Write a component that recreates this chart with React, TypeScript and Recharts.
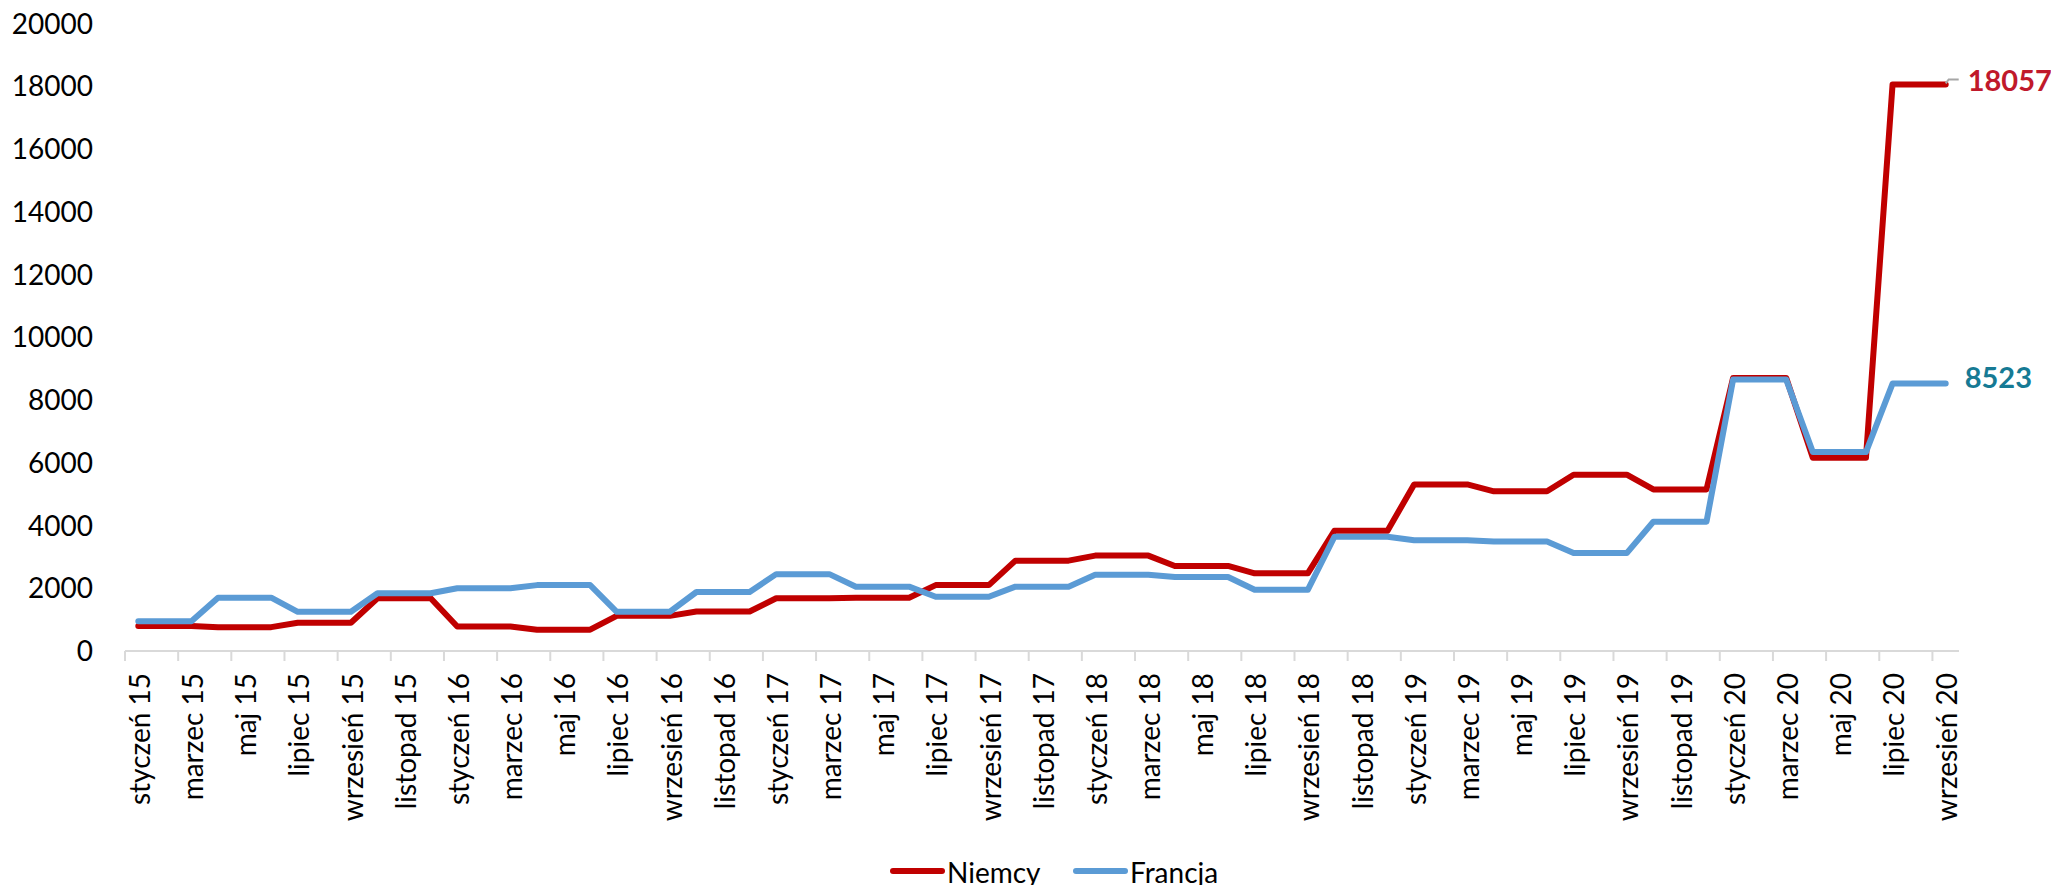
import React from 'react'
import { LabelList, Legend, Line, LineChart, XAxis, YAxis } from 'recharts'

const miesiace = [
	'styczeń 15', 'luty 15', 'marzec 15', 'kwiecień 15', 'maj 15', 'czerwiec 15', 'lipiec 15', 'sierpień 15', 'wrzesień 15', 'październik 15', 'listopad 15', 'grudzień 15',
	'styczeń 16', 'luty 16', 'marzec 16', 'kwiecień 16', 'maj 16', 'czerwiec 16', 'lipiec 16', 'sierpień 16', 'wrzesień 16', 'październik 16', 'listopad 16', 'grudzień 16',
	'styczeń 17', 'luty 17', 'marzec 17', 'kwiecień 17', 'maj 17', 'czerwiec 17', 'lipiec 17', 'sierpień 17', 'wrzesień 17', 'październik 17', 'listopad 17', 'grudzień 17',
	'styczeń 18', 'luty 18', 'marzec 18', 'kwiecień 18', 'maj 18', 'czerwiec 18', 'lipiec 18', 'sierpień 18', 'wrzesień 18', 'październik 18', 'listopad 18', 'grudzień 18',
	'styczeń 19', 'luty 19', 'marzec 19', 'kwiecień 19', 'maj 19', 'czerwiec 19', 'lipiec 19', 'sierpień 19', 'wrzesień 19', 'październik 19', 'listopad 19', 'grudzień 19',
	'styczeń 20', 'luty 20', 'marzec 20', 'kwiecień 20', 'maj 20', 'czerwiec 20', 'lipiec 20', 'sierpień 20', 'wrzesień 20',
]

const niemcy = [
	800, 800, 800, 760, 760, 760, 900, 900, 900, 1680, 1680, 1680,
	780, 780, 780, 680, 680, 680, 1120, 1120, 1120, 1260, 1260, 1260,
	1680, 1680, 1680, 1700, 1700, 1700, 2100, 2100, 2100, 2880, 2880, 2880,
	3040, 3040, 3040, 2710, 2710, 2710, 2475, 2475, 2475, 3830, 3830, 3830,
	5310, 5310, 5310, 5090, 5090, 5090, 5620, 5620, 5620, 5150, 5150, 5150,
	8700, 8700, 8700, 6160, 6160, 6160, 18057, 18057, 18057,
]

const francja = [
	950, 950, 950, 1700, 1700, 1700, 1250, 1250, 1250, 1840, 1840, 1840,
	2000, 2000, 2000, 2100, 2100, 2100, 1250, 1250, 1250, 1880, 1880, 1880,
	2450, 2450, 2450, 2050, 2050, 2050, 1730, 1730, 1730, 2050, 2050, 2050,
	2430, 2430, 2430, 2360, 2360, 2360, 1950, 1950, 1950, 3640, 3640, 3640,
	3530, 3530, 3530, 3490, 3490, 3490, 3120, 3120, 3120, 4120, 4120, 4120,
	8650, 8650, 8650, 6340, 6340, 6340, 8523, 8523, 8523,
]

const osY = [0, 2000, 4000, 6000, 8000, 10000, 12000, 14000, 16000, 18000, 20000]

const kolejnoscLegendy = ['Niemcy', 'Francja']

const data = miesiace.map((miesiac, i) => ({ miesiac, niemcy: niemcy[i], francja: francja[i] }))

const FONT = 'Lato, sans-serif'
const OSTATNI = miesiace.length - 1
const POL_KAT = 13.29 // polowa szerokosci kategorii

const TickX = ({ x, y, payload }: any) => (
	<g>
		<line x1={x - POL_KAT} x2={x - POL_KAT} y1={y} y2={y + 10} stroke='#d9d9d9' strokeWidth={2} />
		<text
			x={x}
			y={y + 22}
			dy={11.7}
			transform={`rotate(-90, ${x}, ${y + 22})`}
			textAnchor='end'
			fontFamily={FONT}
			fontSize={28}
			fill='#000'
		>
			{payload.value}
		</text>
	</g>
)

const TickY = ({ x, y, payload }: any) => (
	<text x={x - 32} y={y + 10} textAnchor='end' fontFamily={FONT} fontSize={28} fill='#000'>
		{payload.value}
	</text>
)

const EtykietaNiemcy = ({ x, y, value, index }: any) => {
	if (index !== OSTATNI) return null
	return (
		<g>
			<path d={`M${x},${y - 1} L${x + 3},${y - 5} L${x + 13},${y - 5}`} stroke='#a6a6a6' strokeWidth={2} fill='none' />
			<text x={x + 22} y={y + 7} fontFamily={FONT} fontWeight='bold' fontSize={29} fill='#c0192b'>{value}</text>
		</g>
	)
}

const EtykietaFrancja = ({ x, y, value, index }: any) => {
	if (index !== OSTATNI) return null
	return (
		<text x={x + 19} y={y + 4} fontFamily={FONT} fontWeight='bold' fontSize={29} fill='#167a94'>{value}</text>
	)
}

const Legenda = ({ payload }: any) => {
	const pozycje = [...(payload || [])].sort(
		(a: any, b: any) => kolejnoscLegendy.indexOf(a.value) - kolejnoscLegendy.indexOf(b.value)
	)
	return (
		<svg width={1959} height={44} style={{ display: 'block', overflow: 'visible' }}>
			{pozycje.map((entry: any, i: number) => {
				const x0 = 890 + i * 183
				return (
					<g key={entry.value}>
						<line x1={x0 + 3} x2={x0 + 52} y1={30} y2={30} stroke={entry.color} strokeWidth={6} strokeLinecap='round' />
						<text x={x0 + 57} y={42} fontFamily={FONT} fontSize={28} fill='#000'>{entry.value}</text>
					</g>
				)
			})}
		</svg>
	)
}

const App = () => {
	return (
		<div style={{ position: 'absolute', left: 0, top: 0, background: '#fff' }}>
			<LineChart width={2051} height={885} data={data} margin={{ top: 23.5, right: 92, left: 0, bottom: 0 }}>
				<XAxis
					dataKey='miesiac'
					interval={1}
					height={190}
					padding={{ left: POL_KAT, right: POL_KAT }}
					axisLine={{ stroke: '#d9d9d9', strokeWidth: 2 }}
					tickLine={false}
					tickSize={0}
					tickMargin={0}
					tick={<TickX />}
				/>
				<YAxis
					width={125}
					domain={[0, 20000]}
					ticks={osY}
					interval={0}
					axisLine={false}
					tickLine={false}
					tickSize={0}
					tickMargin={0}
					tick={<TickY />}
				/>
				<Legend verticalAlign='bottom' content={<Legenda />} />
				<Line name='Niemcy' type='linear' dataKey='niemcy' stroke='#c00000' strokeWidth={6} dot={false} strokeLinejoin='round' strokeLinecap='round' isAnimationActive={false}>
					<LabelList dataKey='niemcy' content={<EtykietaNiemcy />} />
				</Line>
				<Line name='Francja' type='linear' dataKey='francja' stroke='#5b9bd5' strokeWidth={6} dot={false} strokeLinejoin='round' strokeLinecap='round' isAnimationActive={false}>
					<LabelList dataKey='francja' content={<EtykietaFrancja />} />
				</Line>
			</LineChart>
		</div>
	)
}

export default App
